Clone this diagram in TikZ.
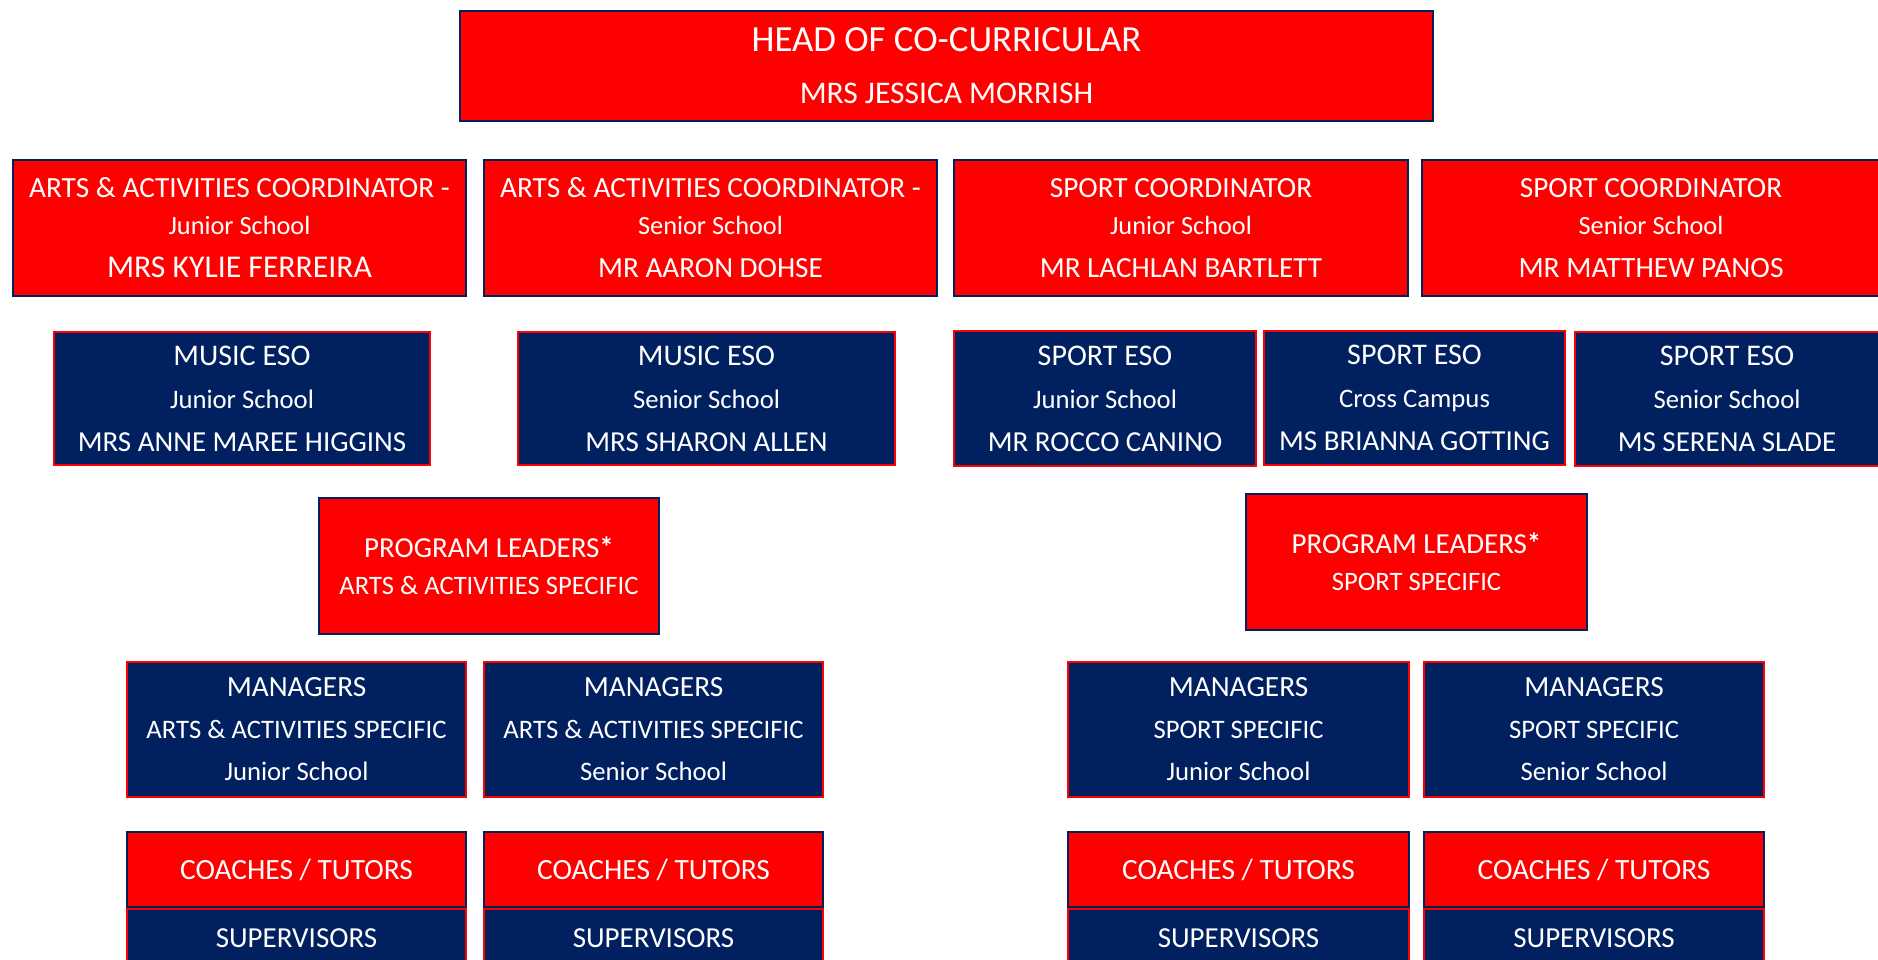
\documentclass[tikz,border=0pt]{standalone}
\usepackage{fontspec}
\setmainfont{Carlito}
\definecolor{navy}{HTML}{002060}
\definecolor{chartred}{HTML}{FF0000}
\begin{document}
\begin{tikzpicture}[x=1pt,y=-1pt,
    redbox/.style ={rectangle, fill=chartred, draw=navy, line width=2.5pt, text=white, align=center, inner sep=0pt, font=\fontsize{29.4}{42}\selectfont},
    bluebox/.style ={rectangle, fill=navy, draw=chartred, line width=2.5pt, text=white, align=center, inner sep=0pt, font=\fontsize{26.7}{42}\selectfont}]
   \useasboundingbox (0,0) rectangle (1878,960);
   % top
   \node[redbox, minimum width=973, minimum height=110, font=\fontsize{31.5}{52}\selectfont] (head) at (946.5,66) {{\fontsize{36.8}{52}\selectfont HEAD OF CO-CURRICULAR}\\MRS JESSICA MORRISH};
   % coordinators
   \node[redbox, minimum width=453, minimum height=136, font=\fontsize{26.3}{41}\selectfont] (acjs) at (239.5,228) {{\fontsize{29.3}{41}\selectfont ARTS \& ACTIVITIES COORDINATOR -}\\[-4pt]Junior School\\[2pt]{\fontsize{31.7}{41}\selectfont MRS KYLIE FERREIRA}};
   \node[redbox, minimum width=453, minimum height=136, font=\fontsize{26.3}{41}\selectfont] (acss) at (710.5,228) {{\fontsize{29.3}{41}\selectfont ARTS \& ACTIVITIES COORDINATOR -}\\[-4pt]Senior School\\[2pt]{\fontsize{29.2}{41}\selectfont MR AARON DOHSE}};
   \node[redbox, minimum width=454, minimum height=136, font=\fontsize{26.3}{41}\selectfont] (spjs) at (1181,228) {{\fontsize{29.3}{41}\selectfont SPORT COORDINATOR}\\[-4pt]Junior School\\[2pt]{\fontsize{29.2}{41}\selectfont MR LACHLAN BARTLETT}};
   \node[redbox, minimum width=458, minimum height=136, font=\fontsize{26.3}{41}\selectfont] (spss) at (1651,228) {{\fontsize{29.3}{41}\selectfont SPORT COORDINATOR}\\[-4pt]Senior School\\[2pt]{\fontsize{29.5}{41}\selectfont MR MATTHEW PANOS}};
   % eso
   \node[bluebox, minimum width=376, minimum height=133, font=\fontsize{26.7}{43}\selectfont] (musjs) at (242,398.5) {{\fontsize{30}{43}\selectfont MUSIC ESO}\\Junior School\\{\fontsize{29}{43}\selectfont MRS ANNE MAREE HIGGINS}};
   \node[bluebox, minimum width=377, minimum height=133, font=\fontsize{26.7}{43}\selectfont] (musss) at (706.5,398.5) {{\fontsize{30}{43}\selectfont MUSIC ESO}\\Senior School\\{\fontsize{29}{43}\selectfont MRS SHARON ALLEN}};
   \node[bluebox, minimum width=302, minimum height=135, font=\fontsize{26.7}{43}\selectfont] (esojs) at (1105,398.5) {{\fontsize{30}{43}\selectfont SPORT ESO}\\Junior School\\{\fontsize{29}{43}\selectfont MR ROCCO CANINO}};
   \node[bluebox, minimum width=301, minimum height=134, font=\fontsize{26.7}{43}\selectfont] (esocc) at (1414.5,398) {{\fontsize{30}{43}\selectfont SPORT ESO}\\Cross Campus\\{\fontsize{29}{43}\selectfont MS BRIANNA GOTTING}};
   \node[bluebox, minimum width=304, minimum height=134, font=\fontsize{26.7}{43}\selectfont] (esoss) at (1727,399) {{\fontsize{30}{43}\selectfont SPORT ESO}\\Senior School\\{\fontsize{29}{43}\selectfont MS SERENA SLADE}};
   % program leaders
   \node[redbox, minimum width=340, minimum height=136, font=\fontsize{26.6}{37}\selectfont] (plac) at (489,566) {{\fontsize{29}{37}\selectfont PROGRAM LEADERS\textbf{*}}\\ARTS \& ACTIVITIES SPECIFIC};
   \node[redbox, minimum width=341, minimum height=136, font=\fontsize{26.6}{37}\selectfont] (plsp) at (1416.5,562) {{\fontsize{29}{37}\selectfont PROGRAM LEADERS\textbf{*}}\\SPORT SPECIFIC};
   % managers
   \node[bluebox, minimum width=339, minimum height=135] (mgacjs) at (296.5,729.5) {{\fontsize{29.3}{42}\selectfont MANAGERS}\\ARTS \& ACTIVITIES SPECIFIC\\Junior School};
   \node[bluebox, minimum width=339, minimum height=135] (mgacss) at (653.5,729.5) {{\fontsize{29.3}{42}\selectfont MANAGERS}\\ARTS \& ACTIVITIES SPECIFIC\\Senior School};
   \node[bluebox, minimum width=341, minimum height=135] (mgspjs) at (1238.5,729.5) {{\fontsize{29.3}{42}\selectfont MANAGERS}\\SPORT SPECIFIC\\Junior School};
   \node[bluebox, minimum width=340, minimum height=135] (mgspss) at (1594,729.5) {{\fontsize{29.3}{42}\selectfont MANAGERS}\\SPORT SPECIFIC\\Senior School};
   % coaches and supervisors
   \node[redbox, minimum width=339, minimum height=75] (coacjs) at (296.5,869.5) {COACHES / TUTORS};
   \node[redbox, minimum width=339, minimum height=75] (coacss) at (653.5,869.5) {COACHES / TUTORS};
   \node[redbox, minimum width=341, minimum height=75] (cospjs) at (1238.5,869.5) {COACHES / TUTORS};
   \node[redbox, minimum width=340, minimum height=75] (cospss) at (1594,869.5) {COACHES / TUTORS};
   \node[bluebox, minimum width=339, minimum height=58, font=\fontsize{29}{42}\selectfont] (suacjs) at (296.5,938) {SUPERVISORS};
   \node[bluebox, minimum width=339, minimum height=58, font=\fontsize{29}{42}\selectfont] (suacss) at (653.5,938) {SUPERVISORS};
   \node[bluebox, minimum width=341, minimum height=58, font=\fontsize{29}{42}\selectfont] (suspjs) at (1238.5,938) {SUPERVISORS};
   \node[bluebox, minimum width=340, minimum height=58, font=\fontsize{29}{42}\selectfont] (suspss) at (1594,938) {SUPERVISORS};
 \end{tikzpicture}
\end{document}
